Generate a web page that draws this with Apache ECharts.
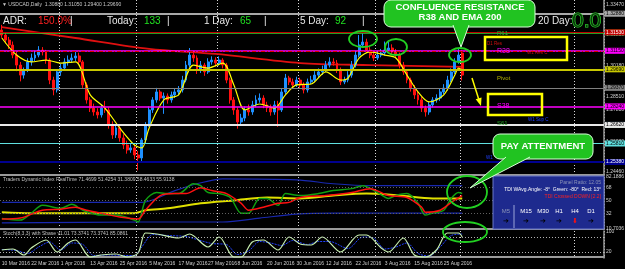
<!DOCTYPE html>
<html>
<head>
<meta charset="utf-8">
<script src="https://cdn.jsdelivr.net/npm/echarts@6/dist/echarts.min.js"></script>
<style>
  html, body { margin: 0; padding: 0; background: #000; }
  #chart { width: 625px; height: 269px; }
</style>
</head>
<body>
<div id="chart"></div>
<script>
// USDCAD daily, 10 Mar 2016 .. 1 Sep 2016 (one slot per trading day, empty slots on the right)
const slotCount = 164
const dateLabels = ['10 Mar 2016', '22 Mar 2016', '1 Apr 2016', '13 Apr 2016', '25 Apr 2016', '5 May 2016',
  '17 May 2016', '27 May 2016', '8 Jun 2016', '20 Jun 2016', '30 Jun 2016', '12 Jul 2016', '22 Jul 2016',
  '3 Aug 2016', '15 Aug 2016', '25 Aug 2016']
const monthStartIdx = [16, 37, 59, 81, 102, 125, 156]

const openPrices = [1.3212, 1.3185, 1.3158, 1.3131, 1.3077, 1.3023, 1.2969, 1.2996, 1.3040, 1.3061,
  1.3077, 1.3104, 1.3094, 1.3050, 1.2942, 1.2889, 1.2986, 1.3007, 1.3040, 1.3050,
  1.3061, 1.3072, 1.3040, 1.2916, 1.2835, 1.2791, 1.2770, 1.2754, 1.2791, 1.2781,
  1.2700, 1.2646, 1.2684, 1.2630, 1.2592, 1.2565, 1.2576, 1.2538, 1.2522, 1.2619,
  1.2700, 1.2781, 1.2835, 1.2878, 1.2845, 1.2856, 1.2835, 1.2862, 1.2878, 1.2889,
  1.2942, 1.3023, 1.3077, 1.3061, 1.2996, 1.3023, 1.2986, 1.3040, 1.3050, 1.3034,
  1.3050, 1.3023, 1.2942, 1.2835, 1.2781, 1.2716, 1.2737, 1.2781, 1.2770, 1.2808,
  1.2835, 1.2845, 1.2808, 1.2791, 1.2770, 1.2808, 1.2781, 1.2878, 1.2953, 1.2932,
  1.2916, 1.2942, 1.2916, 1.2889, 1.2932, 1.2942, 1.2969, 1.2986, 1.2996, 1.3023,
  1.3040, 1.3034, 1.2996, 1.2932, 1.2942, 1.2969, 1.3023, 1.3077, 1.3131, 1.3147,
  1.3104, 1.3077, 1.3061, 1.3077, 1.3088, 1.3104, 1.3115, 1.3094, 1.3077, 1.3023,
  1.2986, 1.2942, 1.2899, 1.2862, 1.2835, 1.2791, 1.2770, 1.2808, 1.2835, 1.2845,
  1.2878, 1.2899, 1.2942, 1.2986, 1.3040, 1.3088]
const closePrices = [1.3185, 1.3158, 1.3131, 1.3077, 1.3023, 1.2969, 1.2996, 1.3040, 1.3061, 1.3077,
  1.3104, 1.3094, 1.3050, 1.2942, 1.2889, 1.2986, 1.3007, 1.3040, 1.3050, 1.3061,
  1.3072, 1.3040, 1.2916, 1.2835, 1.2791, 1.2770, 1.2754, 1.2791, 1.2781, 1.2700,
  1.2646, 1.2684, 1.2630, 1.2592, 1.2565, 1.2576, 1.2538, 1.2522, 1.2619, 1.2700,
  1.2781, 1.2835, 1.2878, 1.2845, 1.2856, 1.2835, 1.2862, 1.2878, 1.2889, 1.2942,
  1.3023, 1.3077, 1.3061, 1.2996, 1.3023, 1.2986, 1.3040, 1.3050, 1.3034, 1.3050,
  1.3023, 1.2942, 1.2835, 1.2781, 1.2716, 1.2737, 1.2781, 1.2770, 1.2808, 1.2835,
  1.2845, 1.2808, 1.2791, 1.2770, 1.2808, 1.2781, 1.2878, 1.2953, 1.2932, 1.2916,
  1.2942, 1.2916, 1.2889, 1.2932, 1.2942, 1.2969, 1.2986, 1.2996, 1.3023, 1.3040,
  1.3034, 1.2996, 1.2932, 1.2942, 1.2969, 1.3023, 1.3077, 1.3131, 1.3147, 1.3104,
  1.3077, 1.3061, 1.3077, 1.3088, 1.3104, 1.3115, 1.3094, 1.3077, 1.3023, 1.2986,
  1.2942, 1.2899, 1.2862, 1.2835, 1.2791, 1.2770, 1.2808, 1.2835, 1.2845, 1.2878,
  1.2899, 1.2942, 1.2986, 1.3040, 1.3077, 1.2969]
const lowPrices = [1.3170, 1.3140, 1.3110, 1.3060, 1.2990, 1.2935, 1.2950, 1.2985, 1.3020, 1.3045,
  1.3065, 1.3075, 1.3030, 1.2920, 1.2860, 1.2875, 1.2965, 1.2995, 1.3020, 1.3035,
  1.3045, 1.3025, 1.2900, 1.2815, 1.2770, 1.2750, 1.2735, 1.2740, 1.2765, 1.2680,
  1.2625, 1.2630, 1.2610, 1.2570, 1.2545, 1.2550, 1.2515, 1.2455, 1.2500, 1.2600,
  1.2690, 1.2765, 1.2820, 1.2830, 1.2760, 1.2815, 1.2820, 1.2845, 1.2860, 1.2875,
  1.2930, 1.3010, 1.3040, 1.2975, 1.2980, 1.2965, 1.2975, 1.3025, 1.3015, 1.3020,
  1.3005, 1.2925, 1.2815, 1.2755, 1.2680, 1.2700, 1.2720, 1.2750, 1.2755, 1.2795,
  1.2820, 1.2790, 1.2770, 1.2750, 1.2755, 1.2690, 1.2770, 1.2865, 1.2915, 1.2900,
  1.2905, 1.2900, 1.2870, 1.2875, 1.2920, 1.2930, 1.2955, 1.2970, 1.2985, 1.3010,
  1.3020, 1.2980, 1.2915, 1.2920, 1.2930, 1.2955, 1.3010, 1.3065, 1.3120, 1.3090,
  1.3060, 1.3045, 1.3050, 1.3065, 1.3075, 1.3090, 1.3080, 1.3060, 1.3005, 1.2970,
  1.2925, 1.2880, 1.2840, 1.2810, 1.2770, 1.2745, 1.2755, 1.2795, 1.2820, 1.2830,
  1.2865, 1.2885, 1.2930, 1.2975, 1.3030, 1.2940]
const highPrices = [1.3240, 1.3200, 1.3175, 1.3150, 1.3095, 1.3040, 1.3010, 1.3060, 1.3085, 1.3100,
  1.3125, 1.3120, 1.3105, 1.3060, 1.2960, 1.3000, 1.3030, 1.3060, 1.3075, 1.3085,
  1.3095, 1.3090, 1.3050, 1.2930, 1.2850, 1.2815, 1.2790, 1.2810, 1.2830, 1.2795,
  1.2720, 1.2705, 1.2700, 1.2650, 1.2615, 1.2600, 1.2590, 1.2560, 1.2630, 1.2715,
  1.2800, 1.2850, 1.2900, 1.2890, 1.2875, 1.2870, 1.2880, 1.2895, 1.2910, 1.2965,
  1.3045, 1.3115, 1.3100, 1.3075, 1.3045, 1.3035, 1.3060, 1.3070, 1.3065, 1.3070,
  1.3060, 1.3035, 1.2955, 1.2850, 1.2795, 1.2760, 1.2800, 1.2810, 1.2830, 1.2860,
  1.2870, 1.2860, 1.2825, 1.2810, 1.2830, 1.2830, 1.2895, 1.2975, 1.2965, 1.2950,
  1.2960, 1.2955, 1.2930, 1.2950, 1.2965, 1.2990, 1.3005, 1.3020, 1.3045, 1.3065,
  1.3060, 1.3050, 1.3010, 1.2960, 1.2990, 1.3045, 1.3100, 1.3185, 1.3195, 1.3165,
  1.3120, 1.3095, 1.3100, 1.3110, 1.3150, 1.3155, 1.3135, 1.3110, 1.3090, 1.3040,
  1.3000, 1.2955, 1.2915, 1.2880, 1.2850, 1.2805, 1.2825, 1.2850, 1.2865, 1.2895,
  1.2920, 1.2965, 1.3005, 1.3060, 1.3110, 1.3105]

// moving averages: [bar index, price]
const emaFast = [[0, 1.3169], [4, 1.3077], [8, 1.3040], [12, 1.3050], [16, 1.3034], [20, 1.3040], [24, 1.2862],
  [28, 1.2791], [32, 1.2684], [36, 1.2592], [38, 1.2576], [40, 1.2684], [44, 1.2835], [48, 1.2862], [52, 1.3023],
  [56, 1.3007], [60, 1.3034], [63, 1.2916], [66, 1.2781], [70, 1.2813], [74, 1.2791], [77, 1.2862], [80, 1.2916],
  [84, 1.2921], [88, 1.2986], [92, 1.2942], [94, 1.2953], [97, 1.3061], [100, 1.3094], [104, 1.3077],
  [107, 1.3061], [110, 1.2969], [113, 1.2878], [116, 1.2824], [120, 1.2862], [123, 1.2969], [124, 1.3007], [125, 1.2996]]
const ema200 = [[0, 1.3228], [20, 1.3169], [40, 1.3110], [58, 1.3083], [81, 1.3034], [100, 1.3023], [125, 1.3013]]

// pivot / fibo levels
const levelPrices = [1.3363, 1.3288, 1.3207, 1.3153, 1.3115, 1.3104, 1.2969, 1.2937, 1.2824, 1.2743, 1.2727, 1.2662, 1.2581, 1.2538]
const levelColors = ['#00d8d8', '#a8a8a8', '#30d030', '#c00000', '#ff00ff', '#e00000', '#c8c800', '#808080',
  '#ff00ff', '#1030ff', '#208a20', '#e8e8e8', '#60e0e0', '#000090']
const levelWidths = [1.5, 2, 1.5, 1, 1.5, 1, 2, 1, 1.5, 1, 1.5, 2, 1, 2]
const priceTicks = [1.3347, 1.3185, 1.3018, 1.2851, 1.2781, 1.2689, 1.2608, 1.2446]

// Traders Dynamic Index
const tdiGreen = [[0, 25.3], [5, 23.0], [8, 32.5], [11, 43.3], [16, 39.2], [19, 44.6], [22, 36.5], [27, 29.8],
  [31, 29.8], [36, 23.0], [37, 20.3], [39, 50], [42, 60.8], [45, 59.4], [48, 59.4], [52, 72.9], [54, 70.2],
  [56, 60.8], [59, 59.4], [62, 54.0], [65, 32.5], [67, 32.5], [70, 52.7], [72, 52.7], [75, 43.3], [77, 59.4],
  [81, 56.7], [86, 59.4], [90, 63.5], [95, 66.2], [98, 70.2], [102, 60.8], [105, 52.7], [107, 56.7],
  [110, 59.4], [113, 46.0], [115, 29.8], [117, 32.5], [120, 36.5], [122, 52.7], [124, 60.8], [125, 59.4]]
const tdiRed = [[0, 24.4], [5, 25.7], [11, 36.5], [16, 37.9], [20, 40.6], [23, 36.5], [27, 32.5], [32, 27.1],
  [37, 24.4], [39, 36.5], [43, 56.7], [47, 59.4], [50, 59.4], [54, 67.5], [57, 63.5], [61, 59.4], [65, 46.0],
  [67, 36.5], [71, 40.6], [75, 46.0], [78, 47.3], [81, 54.0], [88, 56.7], [95, 60.8], [100, 66.2], [105, 56.7],
  [110, 54.0], [114, 40.6], [115, 33.8], [119, 36.5], [122, 47.3], [125, 56.7]]
const tdiYellow = [[0, 33.8], [8, 32.5], [18, 32.5], [27, 32.5], [36, 32.5], [39, 36.5], [45, 39.2], [54, 46.0],
  [63, 50], [72, 54.0], [81, 52.7], [90, 56.7], [99, 59.4], [108, 56.7], [117, 52.7], [125, 52.7]]
const tdiUpper = [[0, 47.3], [38, 47.3], [47, 63.5], [53, 72.9], [60, 79.7], [80, 78.3], [90, 72.9], [100, 70.2], [125, 70.2]]
const tdiLower = [[0, 19.0], [38, 20.3], [60, 20.3], [70, 25.7], [80, 31.1], [90, 32.5], [125, 32.5]]
const tdiTicks = [82.1886, 68, 50, 32, 10.7036]
const tdiLevels = [68, 50, 32]

// Stochastic
const stochMain = [[0, 28], [3, 32], [6, 8], [8, 36], [12, 68], [15, 20], [18, 56], [20, 68], [24, 0], [27, 8],
  [31, 12], [34, 0], [37, 16], [39, 96], [42, 92], [48, 76], [51, 92], [56, 40], [59, 80], [63, 0], [65, 0],
  [68, 60], [71, 68], [75, 28], [78, 80], [81, 52], [84, 48], [87, 80], [92, 20], [97, 88], [99, 88], [103, 36],
  [105, 20], [109, 76], [112, 8], [115, 0], [118, 28], [121, 96], [124, 96], [125, 80]]
const stochSignal = [[0, 30], [4, 26], [7, 14], [10, 40], [13, 60], [16, 28], [19, 56], [22, 50], [25, 6], [29, 8],
  [33, 6], [36, 6], [38, 40], [41, 90], [45, 86], [50, 82], [53, 70], [57, 54], [61, 50], [64, 10], [67, 24],
  [70, 62], [73, 56], [76, 46], [79, 66], [83, 50], [86, 62], [89, 62], [94, 34], [98, 80], [101, 76], [104, 32],
  [107, 40], [110, 56], [113, 14], [116, 4], [119, 40], [122, 86], [125, 92]]
const stochTicks = [100, 20]
const stochLevels = [80, 20]

const chart = echarts.init(document.getElementById('chart'))

const slots = Array.from({ length: slotCount }, (_, i) => i)
const candles = openPrices.map((o, i) => [o, closePrices[i], lowPrices[i], highPrices[i]])

const FONT = '"Liberation Sans", "DejaVu Sans", sans-serif'
const AXIS_GREY = '#9a9a9a'
const LABEL = { fontSize: 5, color: '#d0d0d0', fontFamily: FONT }

const darkBox = ['#c00000', '#1030ff', '#000090', '#208a20']

const xAxisFor = (gridIndex, withLabels) => ({
  type: 'category', gridIndex, data: slots, boundaryGap: true,
  axisLine: { show: true, lineStyle: { color: AXIS_GREY, width: 2 } },
  axisTick: { show: false },
  axisLabel: withLabels ? {
    ...LABEL, interval: 7, align: 'left', margin: 3,
    formatter: (v, idx) => dateLabels[idx / 8] || ''
  } : { show: false },
  splitLine: {
    show: true,
    interval: (idx) => monthStartIdx.includes(idx),
    lineStyle: { color: '#d8d8d8', type: [1, 2], width: 1 }
  }
})

const yAxisFor = (gridIndex, min, max, ticks, fmt) => ({
  type: 'value', gridIndex, position: 'right', min, max,
  axisLine: { show: true, lineStyle: { color: AXIS_GREY, width: 1.5 } },
  axisTick: { show: false },
  splitLine: { show: false },
  axisLabel: { ...LABEL, margin: 2, customValues: ticks, formatter: fmt }
})

const levelLines = levelPrices.map((p, i) => ({
  yAxis: p,
  lineStyle: { color: levelColors[i], width: levelWidths[i], type: (i === 5 || i === 9) ? [4, 2, 1, 2] : 'solid' },
  label: i === 5 ? { show: false } : {
    show: true, position: 'end', distance: 1, formatter: p.toFixed(5),
    fontSize: 5, fontFamily: FONT, padding: [1, 1, 0, 1],
    backgroundColor: levelColors[i],
    color: darkBox.includes(levelColors[i]) ? '#fff' : '#000'
  }
}))

const dottedLevels = (vals, color) => ({
  silent: true, symbol: ['none', 'none'], animation: false,
  label: { show: false },
  lineStyle: { color, type: [1, 2], width: 1 },
  data: vals.map(v => ({ yAxis: v }))
})

const lineSeries = (name, data, xi, color, width, extra) => Object.assign({
  name, type: 'line', data, xAxisIndex: xi, yAxisIndex: xi,
  showSymbol: false, smooth: 0.3, lineStyle: { color, width }, itemStyle: { color }
}, extra || {})

const series = [
  lineSeries('EMA 200', ema200, 0, '#e01010', 1.8, {
    z: 2,
    markLine: { silent: true, symbol: ['none', 'none'], animation: false, data: levelLines }
  }),
  {
    name: 'USDCAD', type: 'candlestick', data: candles, xAxisIndex: 0, yAxisIndex: 0, z: 3,
    barWidth: '65%',
    itemStyle: { color: '#1e90ff', color0: '#ff1010', borderColor: '#1e90ff', borderColor0: '#ff1010', borderWidth: 1 }
  },
  lineSeries('EMA fast', emaFast, 0, '#ffff00', 1.2, { z: 4 }),
  lineSeries('VB high', tdiUpper, 1, '#1828b0', 1.2),
  lineSeries('VB low', tdiLower, 1, '#1828b0', 1.2),
  lineSeries('Market base', tdiYellow, 1, '#e0e000', 2, { markLine: dottedLevels(tdiLevels, '#606060') }),
  lineSeries('RSI price', tdiGreen, 1, '#10a010', 1.5),
  lineSeries('Signal', tdiRed, 1, '#ff1010', 1.5),
  lineSeries('Stoch signal', stochSignal, 2, '#2040ff', 1, { lineStyle: { color: '#2040ff', width: 1, type: [2, 1] } }),
  lineSeries('Stoch main', stochMain, 2, '#c8f0b0', 1.2, { markLine: dottedLevels(stochLevels, '#b0b0b0') })
]

// graphic helpers
const txt = (x, y, text, fill, size, align, extra) => ({
  type: 'text', z: 100,
  style: Object.assign({
    x, y, text, fill, font: size + 'px ' + FONT,
    textAlign: align || 'left', align: align || 'left',
    textVerticalAlign: 'middle', verticalAlign: 'middle'
  }, extra || {})
})
const ellipse = (cx, cy, rx, ry) => ({
  type: 'ellipse', z: 100, shape: { cx, cy, rx, ry },
  style: { fill: 'none', stroke: '#22d022', lineWidth: 1.8 }
})
const box = (x, y, w, h) => ({
  type: 'rect', z: 100, shape: { x, y, width: w, height: h },
  style: { fill: 'none', stroke: '#ffff00', lineWidth: 2.5 }
})
const bubble = (x, y, w, h, tail) => [
  { type: 'rect', z: 100, shape: { x, y, width: w, height: h, r: 7 }, style: { fill: '#21c321', stroke: '#d8ffd8', lineWidth: 1 } },
  { type: 'polygon', z: 101, shape: { points: tail }, style: { fill: '#21c321' } },
  { type: 'polyline', z: 101, shape: { points: [tail[0], tail[2], tail[1]] }, style: { stroke: '#d8ffd8', lineWidth: 1, fill: 'none' } }
]

const graphic = [
  txt(2, 4.5, '\u25BC USDCAD,Daily  1.30880 1.31050 1.29400 1.29690', '#c8c8c8', 5),
  txt(3, 21, 'ADR:', '#e8e8e8', 10),
  txt(38, 21, '150.0%', '#ff2020', 10),
  txt(70, 21, '|', '#e8e8e8', 10),
  txt(107, 21, 'Today:', '#e8e8e8', 10),
  txt(144, 21, '133', '#20e020', 10),
  txt(167, 21, '|', '#e8e8e8', 10),
  txt(204, 21, '1 Day:', '#e8e8e8', 10),
  txt(240, 21, '65', '#20e020', 10),
  txt(264, 21, '|', '#e8e8e8', 10),
  txt(300, 21, '5 Day:', '#e8e8e8', 10),
  txt(335, 21, '92', '#20e020', 10),
  txt(362, 21, '|', '#e8e8e8', 10),
  txt(538, 21, '20 Day:', '#e8e8e8', 10),
  txt(572, 21, '0.0', '#0b3a0b', 21, 'left', { stroke: '#30e030', lineWidth: 1.2 }),

  // level names
  txt(497, 33, 'R61', '#30b030', 6),
  txt(487, 43.5, 'D1 Res', '#d01010', 4.5),
  txt(497, 51.5, 'R38', '#ff00ff', 7),
  txt(527, 53, 'W1 Res C', '#d01010', 4.5),
  txt(497, 78.5, 'Pivot', '#b0b000', 6),
  txt(497, 106, 'S38', '#ff00ff', 7),
  txt(528, 119.5, 'W1 Sup C', '#2040ff', 4.5),
  txt(497, 123.5, 'S61', '#20a020', 6),
  txt(486, 157.5, 'W1', '#2040ff', 4.5),

  // yellow boxes and arrow
  box(485, 37, 82, 23),
  box(488, 94, 54, 21),
  { type: 'line', z: 100, shape: { x1: 472, y1: 78, x2: 479, y2: 100 }, style: { stroke: '#ffff00', lineWidth: 1.5 } },
  { type: 'polygon', z: 100, shape: { points: [[481, 106], [481.5, 97.5], [475.7, 99.3]] }, style: { fill: '#ffff00' } },

  // circles
  ellipse(363, 39, 14, 8),
  ellipse(396, 47, 11, 8),
  ellipse(460, 55, 11, 7),
  ellipse(467, 192, 20, 16),
  ellipse(465, 232, 22, 10),

  // callouts
  ...bubble(384, 0, 151, 27, [[453, 25], [469, 25], [461, 47]]),
  txt(460, 7.5, 'CONFLUENCE RESISTANCE', '#ffffff', 9.5, 'center', { font: 'bold 9.5px ' + FONT }),
  txt(460, 17.5, 'R38 AND EMA 200', '#ffffff', 9.5, 'center', { font: 'bold 9.5px ' + FONT }),
  ...bubble(493, 134, 100, 25, [[506, 157], [530, 157], [470, 188]]),
  txt(543, 146.5, 'PAY ATTENTMENT', '#ffffff', 9.5, 'center', { font: 'bold 9.5px ' + FONT }),

  // indicator captions
  txt(3, 179.5, 'Traders Dynamic Index RealTime 71.4699 51.4254 31.3809 58.4633 55.9138', '#c0c0c0', 5),
  txt(3, 234, 'Stoch(8,3,3) with Sbase v1.01 73.3741 73.3741 85.0861', '#c0c0c0', 5),

  // TDI dashboard panel
  { type: 'rect', z: 100, shape: { x: 493, y: 176, width: 111, height: 53 }, style: { fill: '#1e2a8e', stroke: '#6a78c8', lineWidth: 1 } },
  txt(601, 183, 'Panel Ratio: 12.05', '#8c94b8', 5, 'right'),
  txt(601, 190, 'TDI WAvg.Angle: -8\u00B0  Green: -80\u00B0  Red: 13\u00B0', '#ffffff', 5, 'right'),
  txt(601, 197, 'TDI Crossed DOWN [2.2]', '#ff2020', 5, 'right'),
  { type: 'line', z: 101, shape: { x1: 514, y1: 205, x2: 514, y2: 228 }, style: { stroke: '#9aa4d8', lineWidth: 1 } },
  txt(506, 211, 'M5', '#8c94b8', 6, 'center'),
  txt(526, 211, 'M15', '#ffffff', 6, 'center'),
  txt(543, 211, 'M30', '#ffffff', 6, 'center'),
  txt(559, 211, 'H1', '#ffffff', 6, 'center'),
  txt(575, 211, 'H4', '#ffffff', 6, 'center'),
  txt(591, 211, 'D1', '#ffffff', 6, 'center'),
  txt(506, 221, '\u2794', '#000000', 7, 'center'),
  txt(526, 221, '\u2794', '#000000', 7, 'center'),
  txt(543, 221, '\u2794', '#000000', 7, 'center'),
  txt(559, 221, '\u2794', '#000000', 7, 'center'),
  txt(575, 221, '\u2B07', '#ff1010', 7, 'center'),
  txt(591, 221, '\u2794', '#000000', 7, 'center')
]

chart.setOption({
  backgroundColor: '#000000',
  animation: false,
  grid: [
    { left: 0, right: 21, top: 0, height: 175, outerBoundsMode: 'none' },
    { left: 0, right: 21, top: 177, height: 52, outerBoundsMode: 'none' },
    { left: 0, right: 21, top: 231, height: 27, outerBoundsMode: 'none' }
  ],
  xAxis: [xAxisFor(0, false), xAxisFor(1, false), xAxisFor(2, true)],
  yAxis: [
    yAxisFor(0, 1.2430, 1.3374, priceTicks, v => v.toFixed(5)),
    yAxisFor(1, 10.7036, 82.1886, tdiTicks, v => (Number.isInteger(v) ? String(v) : v.toFixed(4))),
    yAxisFor(2, -4, 104, stochTicks, v => String(v))
  ],
  visualMap: {
    type: 'piecewise', show: false, seriesIndex: series.length - 1, dimension: 1,
    pieces: [
      { lt: 20, color: '#ff2020' },
      { gte: 20, lte: 80, color: '#c8f0b0' },
      { gt: 80, color: '#ff2020' }
    ]
  },
  series,
  graphic
})
</script>
</body>
</html>
